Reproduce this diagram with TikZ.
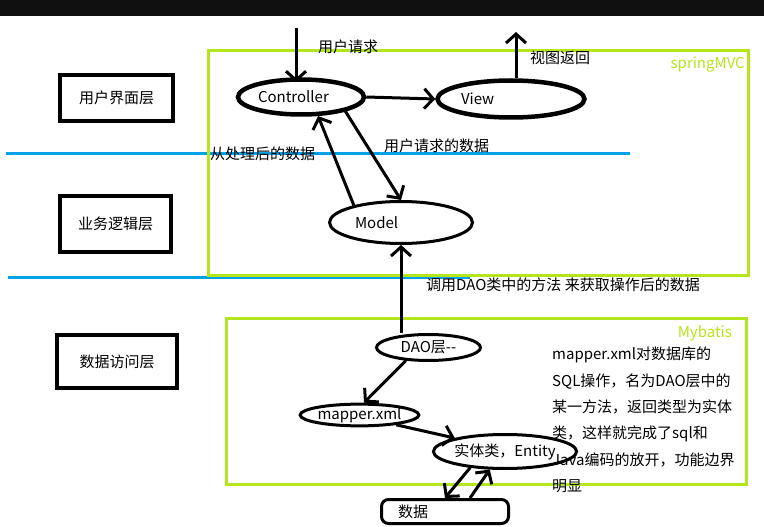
\documentclass[tikz,border=0pt]{standalone}
\usepackage{fontspec}
\setmainfont{Noto Sans CJK SC}
\usetikzlibrary{shapes.geometric,arrows.meta}

\begin{document}
\begin{tikzpicture}[x=1pt,y=-1pt,
  every node/.style={font=\fontsize{15}{18}\selectfont},
  layer/.style={draw=black,line width=4.5pt,inner sep=0pt},
  oval/.style={ellipse,draw=black,line width=3pt,inner sep=0pt},
  flow/.style={draw=black,line width=3pt,-{Straight Barb[length=9pt,width=20pt]}},
  note/.style={anchor=west,inner sep=0pt},
  frame/.style={draw=limeColor,line width=3pt},
  tag/.style={anchor=east,inner sep=0pt,text=limeColor}]
\definecolor{limeColor}{RGB}{181,230,29}
\definecolor{lineColor}{RGB}{0,162,232}
\definecolor{barColor}{RGB}{16,16,16}
\path[use as bounding box,fill=white] (0,0) rectangle (764,527);
\path[fill=barColor] (0,0) rectangle (764,16);

% layer boxes on the left
\node[layer,minimum width=113pt,minimum height=46pt] (ui) at (116.5,98) {用户界面层};
\node[layer,minimum width=111pt,minimum height=56pt] (biz) at (115.5,224) {业务逻辑层};
\node[layer,minimum width=120pt,minimum height=53pt] (dal) at (117,361.5) {数据访问层};

% blue separators
\path[draw=lineColor,line width=3pt] (6,153) -- (630,153);
\path[draw=lineColor,line width=3pt] (8,277) -- (470,277);

% green frames
\path[frame] (208,51) rectangle (748,275);
\path[frame] (226,318) rectangle (746,484);
\node[tag] (mvc) at (745,65) {springMVC};
\node[tag] (mb) at (732,333) {Mybatis};

% springMVC part
\node[oval,line width=4.5pt,minimum width=126pt,minimum height=35pt,text width=86pt,align=left] (ctrl) at (301,97) {Controller};
\node[oval,line width=4.5pt,minimum width=147pt,minimum height=37pt,text width=100pt,align=left] (view) at (511,99) {View};
\node[oval,minimum width=143pt,minimum height=42pt,text width=92pt,align=left] (model) at (401,222.5) {Model};

% Mybatis part
\node[oval,minimum width=104pt,minimum height=26pt] (dao) at (428.5,347.5) {DAO层-{}-};
\node[oval,minimum width=104pt,minimum height=21pt] (mapper) at (359.5,415) {mapper.xml};
\node[oval,minimum width=117pt,minimum height=34pt] (entity) at (505,451.5) {实体类，Entity};
\node[draw=black,line width=3pt,rounded corners=7pt,minimum width=127pt,minimum height=24pt,
  inner xsep=0pt,text width=94pt,align=left] (data) at (445,511.5) {数据};

\coordinate (reqin) at (296,28);
\coordinate (viewout) at (516,32);

% connectors
\path[flow,shorten >=-5pt] (reqin) -- (reqin |- ctrl.north);
\path[flow] (ctrl.east) -- (view.west);
\path[flow] (viewout |- view.north) -- (viewout);
\path[flow] (ctrl.-18) -- (model.north);
\path[flow] (model.160) -- (ctrl.-48);
\path[flow] (model.south |- dao.north) -- (model.south);
\path[flow] (dao.-150) -- (mapper.70);
\path[flow] (mapper.-15) -- (entity.165);
\path[flow] (entity.-155) -- (data.north);
\path[flow] ([xshift=25pt]data.north) -- (entity.-130);

% labels
\node[note] (reqlbl) at (318,47) {用户请求};
\node[note] (retlbl) at (530,58) {视图返回};
\node[note] (reqdata) at (384,146) {用户请求的数据};
\node[note] (backdata) at (210,154) {从处理后的数据};
\node[note] (daocall) at (426,285) {调用DAO类中的方法 来获取操作后的数据};
\node[note,anchor=north west,align=left,font=\fontsize{15}{26.3}\selectfont] (mapnote) at (552,347)
  {mapper.xml对数据库的\\SQL操作，名为DAO层中的\\某一方法，返回类型为实体\\类，这样就完成了sql和\\Java编码的放开，功能边界\\明显};
\end{tikzpicture}
\end{document}
